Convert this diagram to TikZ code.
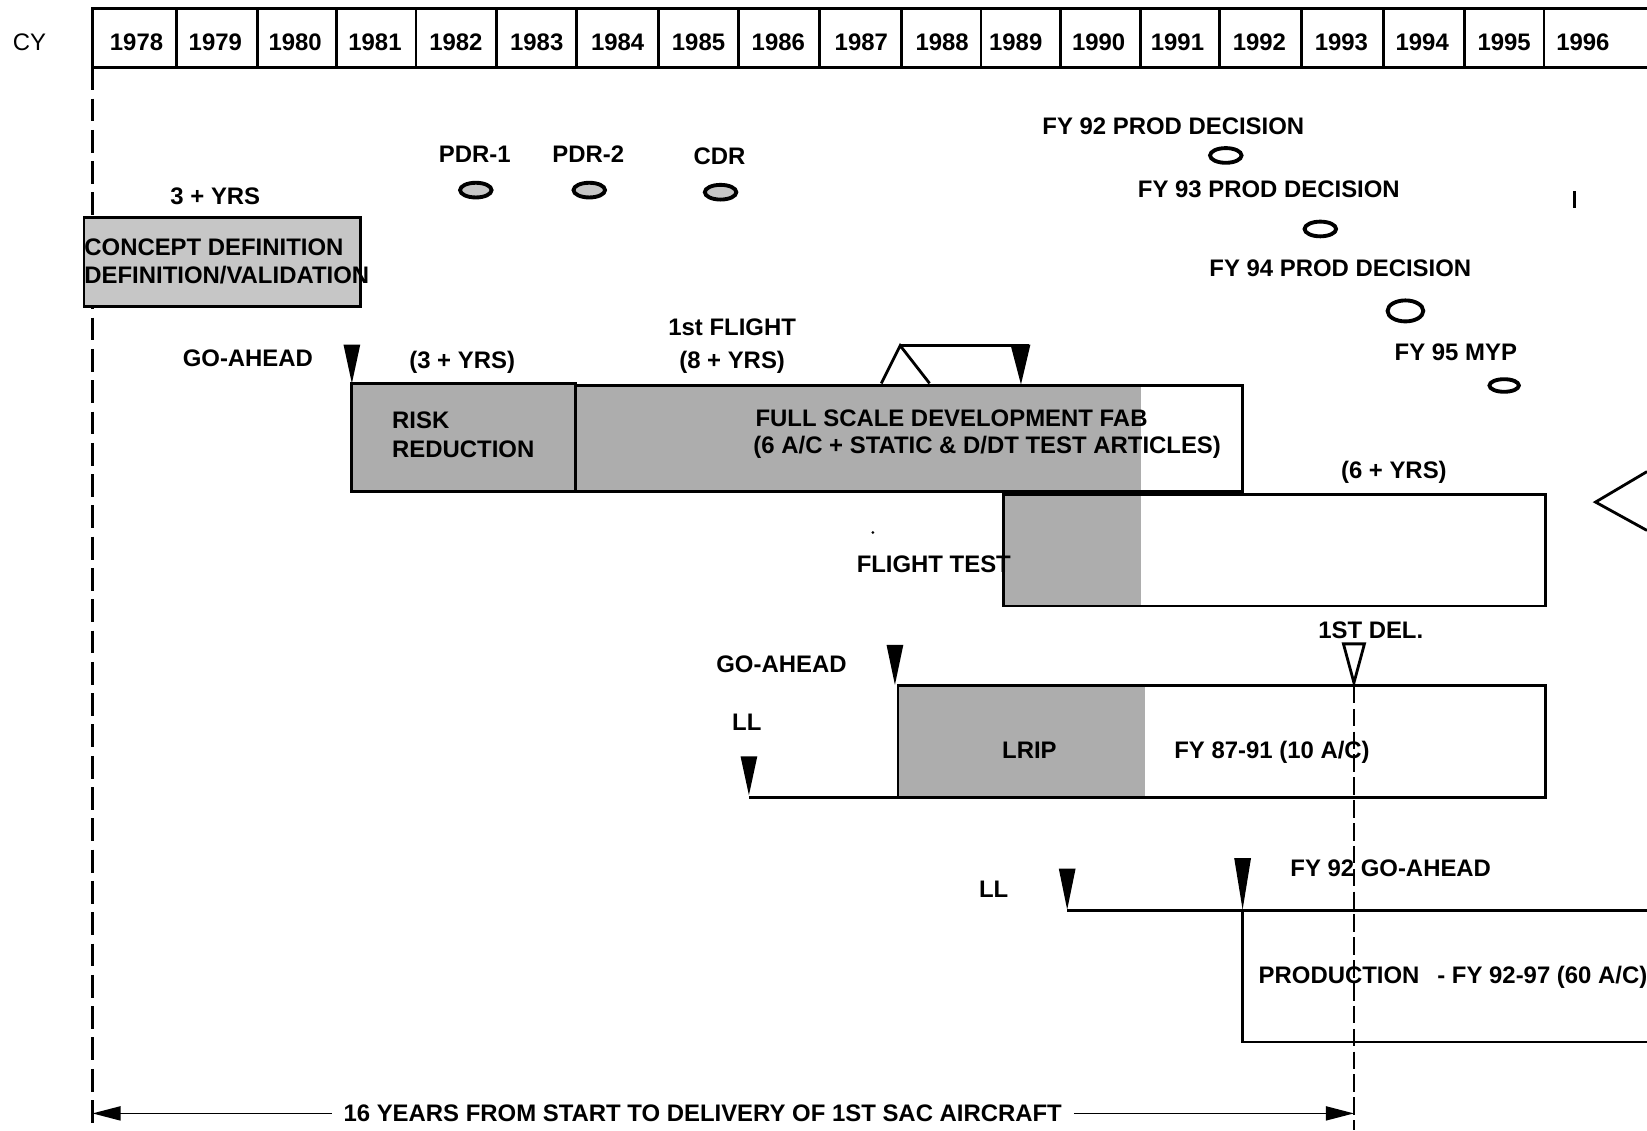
\documentclass[tikz,border=0pt]{standalone}
\usepackage{fontspec}
\setmainfont{Liberation Sans}
\usepackage{tikz}
\usetikzlibrary{arrows.meta}
\definecolor{shade}{HTML}{C6C6C6}
\definecolor{dshade}{HTML}{ADADAD}

\begin{document}
\begin{tikzpicture}[x=0.0105cm,y=-0.0105cm,line width=0.8pt,
    lbl/.style={font=\fontsize{6.8}{8.2}\selectfont\bfseries,inner sep=0pt}]
  \useasboundingbox (0,0) rectangle (1568,1076);
  \def\tw{8}
  % calendar years
  \node[font=\fontsize{6.8}{8.2}\selectfont,inner sep=0pt] (cy) at (28,40) {CY};
  \draw (1568,8) -- (88,8) -- (88,64) -- (1568,64);
  \foreach \x in {168,245,320,396,473,549,627,703,780,858,934,1010,1086,1161,1239,1317,1394,1470}
    \draw (\x,8) -- (\x,64);
  \foreach \x/\yr in {130/1978,205/1979,281/1980,357/1981,434/1982,511/1983,588/1984,665/1985,741/1986,
                      820/1987,897/1988,967/1989,1046/1990,1121/1991,1199/1992,1277/1993,1354/1994,1432/1995,1507/1996}
    \node[lbl] (y\yr) at (\x,40) {\yr};
  \draw[line width=0.9pt,dash pattern=on 6.5pt off 2.4pt] (88,64) -- (88,1076);

  % concept phase
  \filldraw[fill=shade] (80,207) rectangle (343,292);
  \node[lbl] (cyrs) at (205,187) {3 + YRS};
  \node[lbl,anchor=west] (cdef) at (79,235) {CONCEPT DEFINITION};
  \node[lbl,anchor=west] (cval) at (79,262) {DEFINITION/VALIDATION};

  % design reviews
  \foreach \x/\y/\t/\n in {453/181/PDR-1/pdra,561/181/PDR-2/pdrb,686/183/CDR/cdr} {
    \filldraw[fill=shade,line width=1.1pt] (\x,\y) ellipse (15 and 7);
    \node[lbl] (\n) at (\x-1,\y-34) {\t};
  }

  % production decisions
  \node[lbl] (fya) at (1117,120) {FY 92 PROD DECISION};
  \node[lbl] (fyb) at (1208,180) {FY 93 PROD DECISION};
  \node[lbl] (fyc) at (1276,255) {FY 94 PROD DECISION};
  \node[lbl] (fyd) at (1386,335) {FY 95 MYP};
  \draw[line width=1.1pt] (1167,148) ellipse (15 and 7);
  \draw[line width=1.1pt] (1257,218) ellipse (15 and 7);
  \draw[line width=1.1pt] (1338,296) ellipse (17 and 10);
  \draw[line width=1.1pt] (1432,367) ellipse (14 and 6);
  \draw[line width=1pt] (1499,182) -- (1499,198);

  % development
  \node[lbl] (ga) at (236,341) {GO-AHEAD};
  \node[lbl] (ryrs) at (440,345) {(3 + YRS)};
  \node[lbl] (flt) at (697,312) {1st FLIGHT};
  \node[lbl] (fyrs) at (697,345) {(8 + YRS)};
  \filldraw[fill=dshade] (335,365) rectangle (548,468);
  \node[lbl,anchor=west] (risk) at (372,400) {RISK};
  \node[lbl,anchor=west] (red) at (372,428) {REDUCTION};
  \fill[dshade] (548,367) rectangle (1086,468);
  \draw (548,367) rectangle (1183,468);
  \node[lbl,anchor=west] (fsd) at (718,398) {FULL SCALE DEVELOPMENT FAB};
  \node[lbl,anchor=west] (fsdb) at (716,426) {(6 A/C + STATIC \& D/DT TEST ARTICLES)};
  \draw[line join=miter] (839,365) -- (857,329) -- (885,365);
  \draw (857,329) -- (980,329);
  \fill (962,328) -- (981,328) -- (972,366) -- cycle;

  % flight test
  \node[lbl] (tyrs) at (1327,450) {(6 + YRS)};
  \fill[dshade] (955,471) rectangle (1086,577);
  \draw (955,471) rectangle (1471,577);
  \node[lbl] (ftest) at (889,537) {FLIGHT TEST};
  \fill (831,507) circle (1.5);
  \draw (1568,449) -- (1519,478) -- (1568,505);

  % LRIP
  \node[lbl] (gb) at (744,632) {GO-AHEAD};
  \node[lbl] (lla) at (711,688) {LL};
  \node[lbl] (del) at (1305,600) {1ST DEL.};
  \fill[dshade] (855,653) rectangle (1090,759);
  \draw (855,653) rectangle (1471,759);
  \draw (713,759) -- (855,759);
  \node[lbl] (lrip) at (980,714) {LRIP};
  \node[lbl] (lripq) at (1211,716) {FY 87-91 (10 A/C)};
  \draw (1279,613) -- (1299,613) -- (1289,650) -- cycle;

  % production
  \node[lbl] (llb) at (946,847) {LL};
  \node[lbl] (gc) at (1324,827) {FY 92 GO-AHEAD};
  \draw (1016,867) -- (1568,867);
  \draw (1568,992) -- (1183,992) -- (1183,867);
  \node[lbl,anchor=west] (prod) at (1197,930) {PRODUCTION\hspace{0.75em}- FY 92-97 (60 A/C)};

  \foreach \x/\ya/\yb in {335/328/365,852/614/652,713/720/757,1016/827/866,1183/817/866}
    \fill (\x-\tw,\ya) -- (\x+\tw,\ya) -- (\x,\yb) -- cycle;

  % first delivery span
  \draw[dash pattern=on 5pt off 1.5pt] (1289,653) -- (1289,1076);
  \coordinate (start) at (88,1060);
  \coordinate (first) at (1289,1060);
  \node[lbl,inner xsep=3pt] (span) at (669,1060) {16 YEARS FROM START TO DELIVERY OF 1ST SAC AIRCRAFT};
  \draw[line width=0.5pt,{Triangle[length=8pt,width=4pt]}-] (start) -- (span.west);
  \draw[line width=0.5pt,-{Triangle[length=8pt,width=4pt]}] (span.east) -- (first);
\end{tikzpicture}
\end{document}
